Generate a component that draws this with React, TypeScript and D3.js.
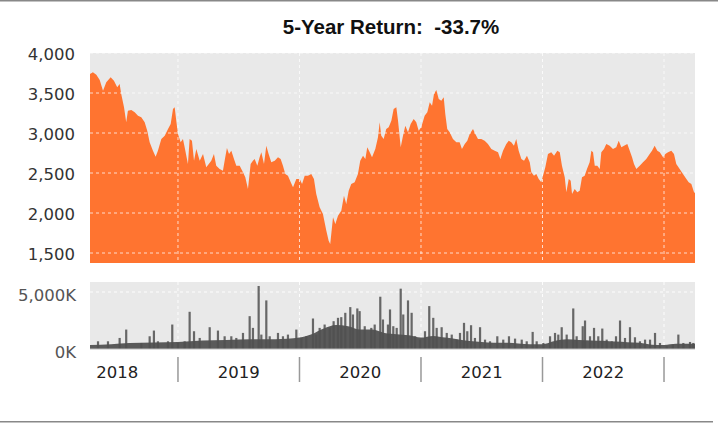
import React from 'react'
import * as d3 from 'd3'

// price readings (decimal year, index level)
const priceYears = [
  2018.276, 2018.300, 2018.328, 2018.356, 2018.383, 2018.410, 2018.446, 2018.473, 2018.500, 2018.520,
  2018.533, 2018.556, 2018.574, 2018.588, 2018.616, 2018.644, 2018.671, 2018.698, 2018.726, 2018.747,
  2018.767, 2018.794, 2018.816, 2018.835, 2018.863, 2018.891, 2018.918, 2018.940, 2018.959, 2018.973,
  2018.986, 2019.000, 2019.022, 2019.041, 2019.055, 2019.082, 2019.096, 2019.115, 2019.132, 2019.151,
  2019.179, 2019.206, 2019.233, 2019.274, 2019.296, 2019.315, 2019.343, 2019.370, 2019.389, 2019.403,
  2019.420, 2019.439, 2019.461, 2019.480, 2019.508, 2019.535, 2019.554, 2019.576, 2019.598, 2019.617,
  2019.631, 2019.653, 2019.672, 2019.686, 2019.708, 2019.727, 2019.746, 2019.768, 2019.796, 2019.823,
  2019.845, 2019.864, 2019.883, 2019.905, 2019.928, 2019.947, 2019.974, 2020.002, 2020.021, 2020.043,
  2020.070, 2020.097, 2020.119, 2020.138, 2020.166, 2020.193, 2020.221, 2020.240, 2020.253, 2020.276,
  2020.295, 2020.317, 2020.344, 2020.366, 2020.385, 2020.405, 2020.426, 2020.454, 2020.481, 2020.500,
  2020.523, 2020.542, 2020.558, 2020.578, 2020.597, 2020.624, 2020.646, 2020.660, 2020.673, 2020.693,
  2020.714, 2020.734, 2020.756, 2020.775, 2020.797, 2020.811, 2020.833, 2020.852, 2020.871, 2020.893,
  2020.915, 2020.940, 2020.961, 2020.981, 2021.002, 2021.030, 2021.052, 2021.072, 2021.091, 2021.107,
  2021.126, 2021.146, 2021.167, 2021.187, 2021.200, 2021.216, 2021.236, 2021.263, 2021.291, 2021.318,
  2021.337, 2021.360, 2021.381, 2021.401, 2021.428, 2021.447, 2021.469, 2021.496, 2021.524, 2021.551,
  2021.579, 2021.607, 2021.634, 2021.653, 2021.675, 2021.702, 2021.722, 2021.743, 2021.765, 2021.784,
  2021.804, 2021.826, 2021.848, 2021.872, 2021.895, 2021.908, 2021.930, 2021.949, 2021.969, 2021.990,
  2022.004, 2022.023, 2022.045, 2022.072, 2022.095, 2022.122, 2022.142, 2022.160, 2022.183, 2022.196,
  2022.216, 2022.232, 2022.243, 2022.265, 2022.286, 2022.306, 2022.325, 2022.347, 2022.366, 2022.388,
  2022.402, 2022.416, 2022.430, 2022.451, 2022.471, 2022.484, 2022.506, 2022.525, 2022.553, 2022.580,
  2022.607, 2022.627, 2022.649, 2022.671, 2022.698, 2022.718, 2022.737, 2022.753, 2022.772, 2022.800,
  2022.827, 2022.854, 2022.882, 2022.901, 2022.923, 2022.945, 2022.965, 2022.992, 2023.011, 2023.033,
  2023.060, 2023.082, 2023.101, 2023.129, 2023.156, 2023.184, 2023.203, 2023.225, 2023.247, 2023.255
]
const priceValues = [
  3737, 3758, 3729, 3662, 3529, 3633, 3696, 3654, 3571, 3612,
  3487, 3321, 3133, 3279, 3287, 3258, 3217, 3196, 3133, 3029,
  2883, 2779, 2704, 2779, 2925, 2967, 3050, 3112, 3300, 3321,
  3154, 2987, 2883, 2925, 2821, 2612, 2925, 2904, 2654, 2800,
  2654, 2737, 2571, 2654, 2737, 2592, 2550, 2529, 2696, 2812,
  2737, 2779, 2675, 2592, 2592, 2508, 2446, 2300, 2612, 2654,
  2675, 2592, 2696, 2758, 2612, 2842, 2737, 2633, 2654, 2696,
  2675, 2592, 2487, 2467, 2383, 2321, 2425, 2425, 2362, 2467,
  2467, 2487, 2425, 2237, 2071, 1987, 1779, 1654, 1612, 1946,
  1862, 1967, 2029, 2217, 2112, 2279, 2362, 2383, 2487, 2654,
  2717, 2675, 2821, 2758, 2696, 2800, 2946, 3133, 2967, 2925,
  3050, 3071, 3154, 3300, 3321, 3154, 2821, 2967, 3092, 3008,
  3112, 3175, 3133, 3029, 3071, 3217, 3258, 3383, 3342, 3487,
  3537, 3425, 3404, 3446, 3237, 3050, 3008, 2925, 2883, 2883,
  2800, 2862, 2904, 2987, 3050, 2987, 2925, 2925, 2904, 2862,
  2800, 2779, 2758, 2675, 2779, 2862, 2904, 2883, 2842, 2925,
  2779, 2675, 2654, 2717, 2633, 2508, 2467, 2487, 2425, 2383,
  2467, 2571, 2737, 2758, 2717, 2779, 2758, 2592, 2446, 2258,
  2425, 2404, 2237, 2300, 2258, 2279, 2446, 2467, 2550, 2633,
  2779, 2758, 2592, 2592, 2550, 2758, 2800, 2862, 2842, 2800,
  2821, 2904, 2821, 2842, 2862, 2779, 2696, 2612, 2550, 2592,
  2633, 2675, 2737, 2779, 2842, 2779, 2758, 2696, 2737, 2758,
  2779, 2737, 2612, 2550, 2487, 2425, 2383, 2362, 2258, 2250
]

// dense lower body of the volume histogram (thousands of shares)
const volFloorYears = [
  2018.276, 2018.45, 2018.60, 2018.80, 2019.00, 2019.20, 2019.40, 2019.60, 2019.80, 2020.00,
  2020.10, 2020.20, 2020.30, 2020.40, 2020.50, 2020.60, 2020.70, 2020.80, 2020.90, 2021.00,
  2021.10, 2021.20, 2021.30, 2021.40, 2021.50, 2021.60, 2021.70, 2021.80, 2021.90, 2022.00,
  2022.10, 2022.20, 2022.30, 2022.40, 2022.50, 2022.60, 2022.70, 2022.80, 2022.90, 2023.00,
  2023.10, 2023.255
]
const volFloorValues = [
  350, 420, 520, 580, 620, 750, 800, 850, 850, 1000,
  1300, 1800, 2100, 2000, 1700, 1700, 1400, 1300, 1200, 1000,
  1150, 1000, 850, 700, 620, 550, 550, 480, 420, 420,
  700, 850, 800, 750, 720, 650, 600, 550, 380, 350,
  450, 450
]

// individual volume bars (thousands of shares)
const volYears = [
  2018.342, 2018.424, 2018.520, 2018.574, 2018.698, 2018.767, 2018.802, 2018.835, 2018.918, 2018.953,
  2019.000, 2019.055, 2019.096, 2019.132, 2019.179, 2019.261, 2019.329, 2019.384, 2019.439, 2019.480,
  2019.535, 2019.590, 2019.617, 2019.664, 2019.686, 2019.727, 2019.755, 2019.823, 2019.864, 2019.905,
  2019.974, 2020.015, 2020.056, 2020.111, 2020.138, 2020.166, 2020.207, 2020.249, 2020.281, 2020.317,
  2020.344, 2020.377, 2020.418, 2020.440, 2020.476, 2020.495, 2020.537, 2020.591, 2020.619, 2020.665,
  2020.687, 2020.728, 2020.745, 2020.772, 2020.800, 2020.833, 2020.854, 2020.893, 2020.923, 2020.951,
  2020.992, 2021.033, 2021.068, 2021.101, 2021.129, 2021.170, 2021.212, 2021.253, 2021.294, 2021.321,
  2021.354, 2021.381, 2021.412, 2021.444, 2021.486, 2021.527, 2021.568, 2021.628, 2021.677, 2021.724,
  2021.774, 2021.829, 2021.870, 2021.919, 2021.952, 2022.007, 2022.062, 2022.103, 2022.130, 2022.158,
  2022.199, 2022.253, 2022.281, 2022.331, 2022.350, 2022.391, 2022.424, 2022.459, 2022.492, 2022.528,
  2022.570, 2022.605, 2022.638, 2022.679, 2022.720, 2022.761, 2022.802, 2022.844, 2022.885, 2022.926,
  2022.967, 2023.022, 2023.072, 2023.118, 2023.159, 2023.214, 2023.241
]
const volValues = [
  676, 676, 970, 1705, 529, 1117, 1617, 676, 676, 2146,
  529, 676, 3263, 1558, 970, 1911, 1617, 1117, 1117, 970,
  1411, 2881, 1852, 5527, 1264, 4263, 1117, 1411, 1117, 1264,
  1705, 970, 1117, 2675, 1264, 1852, 2146, 1852, 2440, 2734,
  2793, 3175, 3675, 3028, 3557, 3322, 1999, 1852, 2146, 4586,
  2587, 2146, 3469, 1999, 1852, 5292, 3028, 4263, 3175, 1117,
  823, 1558, 3763, 2734, 1852, 1911, 1411, 1264, 823, 1411,
  2293, 1558, 2087, 970, 1911, 823, 676, 1117, 823, 1117,
  911, 823, 676, 1499, 676, 529, 1117, 1411, 1264, 1911,
  1264, 3557, 1117, 1999, 2499, 1117, 1852, 1117, 1793, 823,
  676, 1117, 2499, 970, 1911, 1029, 676, 823, 823, 1411,
  529, 235, 382, 1264, 529, 617, 529
]

const priceTicks = [1500, 2000, 2500, 3000, 3500, 4000]
const volumeTicks = [0, 5000]
const yearBoundaries = [2019, 2020, 2021, 2022, 2023]
const yearLabels = [2018, 2019, 2020, 2021, 2022]

const title = '5-Year Return:  -33.7%'

export default function App() {
  let width = 718
  let height = 423
  let left = 90
  let right = 695

  let x = d3.scaleLinear().domain([2018.276, 2023.255]).range([left, right])
  let yPrice = d3.scaleLinear().domain([1375, 4000]).range([263, 53])
  let yVol = d3.scaleLinear().domain([0, 5000]).range([349, 292])
  let volTop = 282

  let priceData = priceYears.map((t, i) => [t, priceValues[i]])
  let area = d3.area<number[]>()
    .x(d => x(d[0]))
    .y0(yPrice(1375))
    .y1(d => yPrice(d[1]))

  let floorData = volFloorYears.map((t, i) => [t, volFloorValues[i]])
  let floorArea = d3.area<number[]>()
    .x(d => x(d[0]))
    .y0(yVol(0))
    .y1(d => yVol(d[1]))
    .curve(d3.curveMonotoneX)

  let labelFont = "'DejaVu Sans', sans-serif"

  return (
    <svg width={width} height={height} style={{ position: 'absolute', left: 0, top: 0, background: '#fff' }}>
      <defs>
        <clipPath id="volClip">
          <rect x={left} y={volTop} width={right - left} height={yVol(0) - volTop} />
        </clipPath>
      </defs>
      <line x1={0} x2={width} y1={0.75} y2={0.75} stroke="#888" strokeWidth={1.5} />
      <line x1={0} x2={713} y1={421.75} y2={421.75} stroke="#888" strokeWidth={1.5} />

      <text x={391} y={34} textAnchor="middle" fontFamily="'Liberation Sans', Arial, sans-serif"
        fontWeight="bold" fontSize={20.5} fill="#111" style={{ whiteSpace: 'pre' }}>{title}</text>

      {/* price panel */}
      <rect x={left} y={yPrice(4000)} width={right - left} height={yPrice(1375) - yPrice(4000)} fill="#e9e9e9" />
      <path d={area(priceData) || ''} fill="#ff7430" />
      {priceTicks.map(v => (
        <line key={'pg' + v} x1={left} x2={right} y1={yPrice(v)} y2={yPrice(v)}
          stroke="#fff" strokeOpacity={0.75} strokeDasharray="3,3" />
      ))}
      {yearBoundaries.map(t => (
        <line key={'pv' + t} x1={x(t)} x2={x(t)} y1={yPrice(4000)} y2={yPrice(1375)}
          stroke="#fff" strokeOpacity={0.75} strokeDasharray="3,3" />
      ))}
      {priceTicks.map(v => (
        <text key={'pl' + v} x={75} y={yPrice(v) + 1} textAnchor="end" dominantBaseline="central"
          fontFamily={labelFont} fontSize={16.5} fill="#333">{d3.format(',')(v)}</text>
      ))}

      {/* volume panel */}
      <rect x={left} y={volTop} width={right - left} height={yVol(0) - volTop} fill="#e9e9e9" />
      {volumeTicks.filter(v => v > 0).map(v => (
        <line key={'vg' + v} x1={left} x2={right} y1={yVol(v)} y2={yVol(v)}
          stroke="#fff" strokeOpacity={0.9} strokeDasharray="3,3" />
      ))}
      {yearBoundaries.map(t => (
        <line key={'vv' + t} x1={x(t)} x2={x(t)} y1={volTop} y2={yVol(0)}
          stroke="#fff" strokeOpacity={0.9} strokeDasharray="3,3" />
      ))}
      <g clipPath="url(#volClip)">
        <path d={floorArea(floorData) || ''} fill="#5a5a5a" />
        {volYears.map((t, i) => (
          <rect key={'vb' + i} x={x(t) - 1.1} y={yVol(volValues[i])} width={2.2}
            height={yVol(0) - yVol(volValues[i])} fill="#505050" fillOpacity={0.85} />
        ))}
      </g>
      <line x1={left} x2={right} y1={yVol(0)} y2={yVol(0)} stroke="#bbb" strokeWidth={1} />
      {volumeTicks.map(v => (
        <text key={'vl' + v} x={76} y={yVol(v) + 3} textAnchor="end" dominantBaseline="central"
          fontFamily={labelFont} fontSize={16.5} fill="#555">{d3.format(',')(v) + 'K'}</text>
      ))}

      {/* year axis */}
      {yearBoundaries.map(t => (
        <line key={'ys' + t} x1={x(t)} x2={x(t)} y1={357} y2={382} stroke="#999" strokeWidth={1.5} />
      ))}
      {yearLabels.map(yr => (
        <text key={'yl' + yr} x={x(yr + 0.5)} y={372} textAnchor="middle" dominantBaseline="central"
          fontFamily={labelFont} fontSize={16.5} fill="#222">{yr}</text>
      ))}
    </svg>
  )
}
